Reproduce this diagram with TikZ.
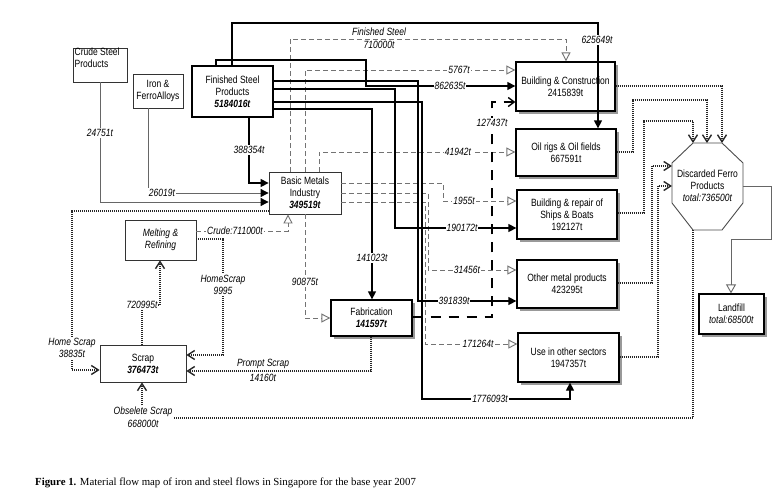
\documentclass[tikz,border=0pt]{standalone}
\usepackage{fontspec}
\setmainfont{Liberation Sans}[FakeStretch=0.81]
\newfontfamily\capfont{Liberation Serif}
\usetikzlibrary{arrows.meta,shadows}
\begin{document}
\begin{tikzpicture}[x=1pt,y=-1pt,
  every node/.style={font=\fontsize{10.5}{12}\selectfont},
  box/.style={draw=black, line width=1.3pt, fill=white, align=center, inner sep=1pt},
  sbox/.style={box, drop shadow={shadow xshift=3pt, shadow yshift=-3pt, fill=black!40, opacity=1}},
  tbox/.style={draw=black!80, line width=0.8pt, fill=white, align=center, inner sep=1pt},
  lbl/.style={font=\fontsize{10.5}{12.5}\selectfont\itshape, fill=white, inner sep=1pt, align=center},
  lbln/.style={lbl, fill=none, inner sep=0pt},
  solidflow/.style={draw=black, line width=1.3pt, -{Triangle[length=8pt,width=8pt]}},
  grayflow/.style={draw=black!60, line width=0.9pt, -{Triangle[length=8pt,width=8pt,color=black]}},
  dashflow/.style={draw=black!55, line width=0.9pt, dash pattern=on 5pt off 3pt, -{Triangle[open,length=9pt,width=9pt,fill=white]}},
  dotflow/.style={draw=black!85, line width=1.4pt, dash pattern=on 1pt off 1pt, -{Straight Barb[length=7pt,width=9pt]}},
  bigdash/.style={draw=black, line width=1.4pt, dash pattern=on 10pt off 8pt, -{Straight Barb[length=6pt,width=9pt]}},
  landflow/.style={draw=black!60, line width=0.9pt, -{Triangle[open,length=9pt,width=10pt,fill=white]}}
]
\fill[white] (0,0) rectangle (782,498);
\useasboundingbox (0,0) rectangle (782,498);

% ---------- boxes ----------
\node[tbox, minimum width=54pt, minimum height=34pt] (cs) at (100,65) {};
\node[anchor=north west, inner sep=0.5pt, align=left] (cst) at (74,47.5) {Crude Steel\\Products};
\node[tbox, minimum width=50pt, minimum height=34pt] (ir) at (158,91) {Iron \&\\FerroAlloys};
\node[box, line width=1.1pt, minimum width=81pt, minimum height=51pt] (fs) at (232.5,91.5) {Finished Steel\\Products\\\textbf{\textit{5184016t}}};
\node[tbox, minimum width=72pt, minimum height=42pt] (bm) at (305,193) {Basic Metals\\Industry\\\textbf{\textit{349519t}}};
\node[tbox, minimum width=71pt, minimum height=40pt, font=\fontsize{10.5}{12}\selectfont\itshape] (mr) at (160.5,240) {Melting \&\\Refining};
\node[tbox, minimum width=86pt, minimum height=37pt] (sc) at (143,363.5) {Scrap\\\textbf{\textit{376473t}}};
\node[sbox, minimum width=81pt, minimum height=36pt] (fa) at (371.5,318) {Fabrication\\\textbf{\textit{141597t}}};
\node[sbox, minimum width=99pt, minimum height=49pt] (bc) at (565.5,86.5) {Building \& Construction\\2415839t};
\node[sbox, minimum width=100pt, minimum height=47pt] (oil) at (566,152.5) {Oil rigs \& Oil fields\\667591t};
\node[sbox, minimum width=100pt, minimum height=49pt] (sh) at (567,214.5) {Building \& repair of\\Ships \& Boats\\192127t};
\node[sbox, minimum width=100pt, minimum height=48pt] (om) at (567,284) {Other metal products\\423295t};
\node[sbox, minimum width=101pt, minimum height=49pt] (us) at (568.5,357.5) {Use in other sectors\\1947357t};
\node[sbox, minimum width=65pt, minimum height=40pt] (lf) at (731.5,314) {Landfill\\\textit{total:68500t}};

% octagon
\draw[draw=black!70, line width=0.9pt, fill=white] (693,143) -- (722,143) -- (743,163) -- (743,203) -- (722,230) -- (693,230) -- (672,203) -- (672,163) -- cycle;
\node[align=center, inner sep=0pt] (df) at (707.5,186) {Discarded Ferro\\Products\\\textit{total:736500t}};
\coordinate (dft1) at (693,143);
\coordinate (dft2) at (707,143);
\coordinate (dft3) at (722,143);
\coordinate (dfl1) at (672,166);
\coordinate (dfl2) at (672,186);
\coordinate (dfr) at (743,186);
\coordinate (dfb) at (693,230);

% ---------- inputs to Basic Metals ----------
\draw[grayflow] (cs.south) |- (bm.west |- 0,202);
\draw[grayflow] (ir.south -| 148,0) |- (bm.west |- 0,193);
\draw[solidflow] (fs.south -| 249,0) |- (bm.west |- 0,183);

% ---------- dashed flows from Basic Metals ----------
\draw[dashflow] (bm.north -| 290,0) -- (290,39) -| (bc.north -| 566,0);
\draw[dashflow] (bm.north -| 305,0) -- (305,70) -- (bc.west |- 0,70);
\draw[dashflow] (bm.north -| 319,0) |- (oil.west |- 0,152);
\draw[dashflow] (bm.east |- 0,183) -| (443,201) -- (sh.west |- 0,201);
\draw[dashflow] (bm.east |- 0,193) -| (428,270) -- (om.west |- 0,270);
\draw[dashflow] (bm.east |- 0,202) -| (425,344) -- (us.west |- 0,344);
\draw[dashflow] (bm.south -| 305,0) |- (fa.west);
\draw[dashflow] (mr.east |- 0,231) -| (bm.south -| 288,0);

% ---------- solid flows from Finished Steel ----------
\draw[solidflow] (fs.north -| 216,0) |- (366,60) |- (bc.west |- 0,86);
\draw[solidflow] (fs.north -| 232,0) |- (598,23) -- (oil.north -| 598,0);
\draw[solidflow] (fs.east |- 0,81) -| (418,301) -- (om.west |- 0,301);
\draw[solidflow] (fs.east |- 0,89) -| (395,228) -- (sh.west |- 0,228);
\draw[solidflow] (fs.east |- 0,102) -| (422,399) -| (us.south -| 570,0);
\draw[solidflow] (fs.east |- 0,109) -| (fa.north -| 372,0);

% ---------- Fabrication to Building ----------
\draw[bigdash] (fa.east |- 0,317) -| (492,102) -- (bc.west |- 0,102);

% ---------- scrap flows (dotted) ----------
\draw[dotflow] (sc.north -| 142,0) |- (160,305) -- (mr.south -| 160,0);
\draw[dotflow] (mr.east |- 0,239) -| (223,355) -- (sc.east |- 0,355);
\draw[dotflow] (bm.west |- 0,211) -| (72,370) -- (sc.west |- 0,370);
\draw[dotflow] (fa.south -| 371,0) |- (sc.east |- 0,371);
\draw[dotflow] (dfb) -- (693,418) -| (sc.south -| 142,0);

% ---------- to Discarded Ferro Products ----------
\draw[dotflow] (bc.east |- 0,86) -| (dft3);
\draw[dotflow] (oil.east |- 0,152) -| (633,100) -| (dft2);
\draw[dotflow] (sh.east |- 0,213) -| (644,121) -| (dft1);
\draw[dotflow] (om.east |- 0,283) -| (652,166) -- (dfl1);
\draw[dotflow] (us.east |- 0,357) -| (658,186) -- (dfl2);
\draw[landflow] (dfr) -| (771,239) -| (lf.north -| 731,0);

% ---------- labels ----------
\node[lbl] (l1) at (100,133) {24751t};
\node[lbl] (l2) at (162,193) {26019t};
\node[lbl] (l3) at (249,150) {388354t};
\node[lbln] (l4a) at (379,32) {Finished Steel};
\node[lbln] (l4b) at (379,45) {710000t};
\node[lbl] (l5) at (459,70) {5767t};
\node[lbl] (l6) at (450,86) {862635t};
\node[lbl] (l7) at (597,40) {625649t};
\node[lbl] (l8) at (492,123) {127437t};
\node[lbl] (l9) at (458,152) {41942t};
\node[lbl] (l10) at (464,201) {1955t};
\node[lbl] (l11) at (462,228) {190172t};
\node[lbl] (l12) at (467,270) {31456t};
\node[lbl] (l13) at (454,301) {391839t};
\node[lbl] (l14) at (478,344) {171264t};
\node[lbl] (l15) at (490,399) {1776093t};
\node[lbl] (l16) at (372,258) {141023t};
\node[lbl] (l17) at (305,282) {90875t};
\node[lbl] (l18) at (235,231) {Crude:711000t};
\node[lbl] (l19) at (223,285) {HomeScrap\\9995};
\node[lbl] (l20) at (142,305) {720995t};
\node[lbl] (l21) at (72,348) {Home Scrap\\38835t};
\node[lbln] (l22a) at (263,363.5) {Prompt Scrap};
\node[lbln] (l22b) at (263,377.5) {14160t};
\node[lbl] (l23) at (143,417) {Obselete Scrap\\668000t};

% ---------- caption ----------
\node[anchor=west, inner sep=0pt, font=\capfont\fontsize{10.8}{13}\selectfont] (cap) at (35,483) {\textbf{Figure 1.} Material flow map of iron and steel flows in Singapore for the base year 2007};
\end{tikzpicture}
\end{document}
